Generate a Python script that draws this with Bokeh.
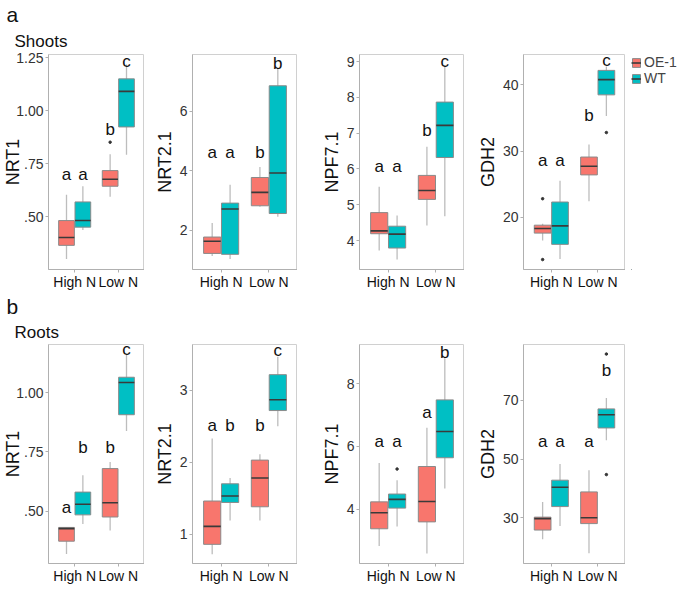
from bokeh.plotting import figure
from bokeh.models import (Range1d, FixedTicker, ColumnDataSource, Title,
                          Legend, LegendItem)
from bokeh.layouts import row, column
from bokeh.core.properties import value
from bokeh.embed import file_html
from bokeh.resources import INLINE

# ---------------- data ----------------
GROUPS = ["High N", "Low N"]
GENOTYPES = ["OE-1", "WT"]
COLORS = ["#F8766D", "#00BFC4"]

# box order: (High N, OE-1), (High N, WT), (Low N, OE-1), (Low N, WT)
# each tuple: lower whisker, Q1, median, Q3, upper whisker
SHOOTS_NRT1 = [(0.30, 0.364, 0.401, 0.481, 0.603), (0.437, 0.450, 0.481, 0.569, 0.643),
               (0.593, 0.643, 0.676, 0.717, 0.794), (0.792, 0.923, 1.091, 1.150, 1.218)]
SHOOTS_NRT21 = [(1.13, 1.22, 1.63, 1.77, 2.24), (1.03, 1.19, 2.71, 2.91, 3.53),
                (2.79, 2.82, 3.27, 3.77, 4.12), (2.45, 2.56, 3.92, 6.85, 7.45)]
SHOOTS_NPF71 = [(3.72, 4.19, 4.27, 4.78, 5.50), (3.47, 3.79, 4.18, 4.40, 4.70),
                (4.42, 5.15, 5.40, 5.82, 6.62), (4.68, 6.32, 7.22, 7.87, 8.90)]
SHOOTS_GDH2 = [(16.5, 17.6, 18.3, 18.8, 19.0), (13.7, 15.9, 18.7, 22.3, 25.5),
               (22.4, 26.4, 27.7, 29.1, 31.0), (35.3, 38.5, 40.8, 42.2, 42.8)]
ROOTS_NRT1 = [(0.320, 0.374, 0.427, 0.432, 0.433), (0.446, 0.485, 0.530, 0.581, 0.652),
              (0.419, 0.476, 0.536, 0.680, 0.708), (0.838, 0.907, 1.043, 1.065, 1.160)]
ROOTS_NRT21 = [(0.72, 0.857, 1.107, 1.46, 2.33), (1.19, 1.44, 1.53, 1.70, 1.78),
               (1.19, 1.38, 1.78, 2.03, 2.11), (2.50, 2.72, 2.87, 3.22, 3.47)]
ROOTS_NPF71 = [(2.82, 3.37, 3.88, 4.23, 5.47), (3.44, 4.03, 4.31, 4.48, 4.92),
               (2.58, 3.59, 4.24, 5.36, 6.60), (4.66, 5.64, 6.48, 7.49, 8.82)]
ROOTS_GDH2 = [(22.7, 25.8, 29.7, 30.2, 35.4), (27.2, 33.8, 40.4, 42.8, 48.3),
              (17.9, 28.0, 30.0, 38.8, 46.2), (56.4, 60.6, 65.1, 67.1, 70.8)]

# outliers: (group, genotype, value)
SHOOTS_NRT1_OUT = [("Low N", "OE-1", 0.851)]
SHOOTS_GDH2_OUT = [("High N", "OE-1", 22.8), ("High N", "OE-1", 13.6), ("Low N", "WT", 32.8)]
ROOTS_NPF71_OUT = [("High N", "WT", 5.28)]
ROOTS_GDH2_OUT = [("Low N", "WT", 85.8), ("Low N", "WT", 44.7)]

# significance letters (same box order) and their heights
SHOOTS_NRT1_LET = ["a", "a", "b", "c"];   SHOOTS_NRT1_LY = [0.699, 0.699, 0.913, 1.234]
SHOOTS_NRT21_LET = ["a", "a", "b", "b"];  SHOOTS_NRT21_LY = [4.61, 4.61, 4.61, 7.61]
SHOOTS_NPF71_LET = ["a", "a", "b", "c"];  SHOOTS_NPF71_LY = [6.08, 6.08, 7.07, 9.01]
SHOOTS_GDH2_LET = ["a", "a", "b", "c"];   SHOOTS_GDH2_LY = [28.6, 28.6, 35.4, 43.7]
ROOTS_NRT1_LET = ["a", "b", "b", "c"];    ROOTS_NRT1_LY = [0.514, 0.77, 0.77, 1.18]
ROOTS_NRT21_LET = ["a", "b", "b", "c"];   ROOTS_NRT21_LY = [2.51, 2.51, 2.51, 3.55]
ROOTS_NPF71_LET = ["a", "a", "a", "b"];   ROOTS_NPF71_LY = [6.15, 6.15, 7.08, 9.01]
ROOTS_GDH2_LET = ["a", "a", "a", "b"];    ROOTS_GDH2_LY = [56.0, 56.0, 56.0, 80.1]

# axis ranges and ticks
SHOOTS_NRT1_Y = (0.25, 1.265);  SHOOTS_NRT1_TICKS = [0.5, 0.75, 1.0, 1.25]
SHOOTS_NRT1_TICKLABELS = [".50", ".75", "1.00", "1.25"]
SHOOTS_NRT21_Y = (0.68, 7.9);   SHOOTS_NRT21_TICKS = [2, 4, 6]
SHOOTS_NPF71_Y = (3.19, 9.2);   SHOOTS_NPF71_TICKS = [4, 5, 6, 7, 8, 9]
SHOOTS_GDH2_Y = (12.1, 44.6);   SHOOTS_GDH2_TICKS = [20, 30, 40]
ROOTS_NRT1_Y = (0.28, 1.203);   ROOTS_NRT1_TICKS = [0.5, 0.75, 1.0]
ROOTS_NRT1_TICKLABELS = [".50", ".75", "1.00"]
ROOTS_NRT21_Y = (0.59, 3.64);   ROOTS_NRT21_TICKS = [1, 2, 3]
ROOTS_NPF71_Y = (2.26, 9.26);   ROOTS_NPF71_TICKS = [4, 6, 8]
ROOTS_GDH2_Y = (14.4, 89.05);   ROOTS_GDH2_TICKS = [30, 50, 70]

FONT = "Liberation Sans"
DODGE = 0.1875
BOX_W = 0.36
BOTTOM = 20
BOX_LINE = "#8a8a8a"
MED_LINE = "#3a3a3a"


def box_x(gi, ki):
    return (gi + 1) + (ki - 0.5) * 2 * DODGE


def make_panel(stats, outliers, yr, ticks, tick_labels, letters, letter_y, ylabel,
               width, height, left, top, label_standoff=2, titles=None):
    p = figure(width=width, height=height,
               x_range=Range1d(0.4, 2.6), y_range=Range1d(*yr),
               output_backend="svg", toolbar_location=None,
               min_border_left=left, min_border_right=0,
               min_border_top=top, min_border_bottom=BOTTOM)
    p.xgrid.visible = False
    p.ygrid.visible = False
    p.outline_line_color = "#d0d0d0"
    p.background_fill_color = "white"

    # axes
    p.xaxis.ticker = FixedTicker(ticks=[1, 2])
    p.xaxis.major_label_overrides = {1: GROUPS[0], 2: GROUPS[1]}
    p.yaxis.ticker = FixedTicker(ticks=ticks)
    if tick_labels is not None:
        p.yaxis.major_label_overrides = {t: l for t, l in zip(ticks, tick_labels)}
    for ax in (p.xaxis[0], p.yaxis[0]):
        ax.axis_line_color = "#b0b0b0"
        ax.major_tick_line_color = "#b0b0b0"
        ax.major_tick_in = 0
        ax.major_tick_out = 3
        ax.minor_tick_line_color = None
        ax.major_label_text_font = FONT
        ax.major_label_text_font_size = "14px"
        ax.major_label_standoff = 2
    p.xaxis.major_label_standoff = 1
    p.xaxis.axis_label = None
    p.xaxis.axis_label_standoff = 0
    p.xaxis.major_label_text_color = "#111111"
    p.yaxis.major_label_text_color = "#333333"
    p.yaxis.axis_label = ylabel
    p.yaxis.axis_label_text_font = FONT
    p.yaxis.axis_label_text_font_size = "18px"
    p.yaxis.axis_label_text_font_style = "normal"
    p.yaxis.axis_label_text_color = "#111111"
    p.yaxis.axis_label_standoff = label_standoff

    sources = {}
    for ki, g in enumerate(GENOTYPES):
        xs, lo, q1, md, q3, hi = [], [], [], [], [], []
        for gi, grp in enumerate(GROUPS):
            s = stats[gi * 2 + ki]
            xs.append(box_x(gi, ki))
            lo.append(s[0]); q1.append(s[1]); md.append(s[2]); q3.append(s[3]); hi.append(s[4])
        src = ColumnDataSource(dict(x=xs, lo=lo, q1=q1, md=md, q3=q3, hi=hi,
                                    xl=[x - BOX_W / 2 for x in xs],
                                    xr=[x + BOX_W / 2 for x in xs]))
        p.segment(x0="x", y0="lo", x1="x", y1="hi", source=src,
                  line_color="#bdbdbd", line_width=1.3)
        p.vbar(x="x", width=BOX_W, bottom="q1", top="q3", source=src,
               fill_color=COLORS[ki], line_color=BOX_LINE, line_width=1)
        p.segment(x0="xl", y0="md", x1="xr", y1="md", source=src,
                  line_color=MED_LINE, line_width=1.6)
        sources[g] = src

    if outliers:
        ox = [box_x(GROUPS.index(o[0]), GENOTYPES.index(o[1])) for o in outliers]
        oy = [o[2] for o in outliers]
        p.scatter(ox, oy, size=2.5, color="#333333")

    lx = [box_x(i // 2, i % 2) for i in range(4)]
    p.text(x=lx, y=letter_y, text=letters, text_align="center", text_baseline="middle",
           text_font=value(FONT), text_font_size="17px", text_color="#111111")

    if titles:
        for text, size, offset, standoff in titles:
            p.add_layout(Title(text=text, text_font=FONT, text_font_size=size,
                               text_font_style="normal", text_color="#111111",
                               align="left", offset=offset, standoff=standoff), "above")
    return p, sources


def make_legend(sources, width, height, left, top):
    # legend-only figure: the keys share the panel's data, which lies far outside its ranges
    f = figure(width=width, height=height, x_range=Range1d(1000, 1001),
               y_range=Range1d(1000, 1001),
               output_backend="svg", toolbar_location=None,
               x_axis_location=None, y_axis_location=None,
               min_border_left=left, min_border_right=0,
               min_border_top=top, min_border_bottom=0)
    f.grid.visible = False
    f.outline_line_color = None
    items = []
    for ki, g in enumerate(GENOTYPES):
        src = sources[g]
        b = f.vbar(x="x", width=BOX_W, bottom="q1", top="q3", source=src,
                   fill_color=COLORS[ki], line_color=BOX_LINE, line_width=1)
        m = f.segment(x0="xl", y0="md", x1="xr", y1="md", source=src,
                      line_color=MED_LINE, line_width=1.6)
        items.append(LegendItem(label=g, renderers=[b, m]))
    lg = Legend(items=items, location="top_left", label_text_font=FONT,
                label_text_font_size="14px", glyph_width=10, glyph_height=11,
                label_standoff=3, spacing=0, padding=0, margin=0,
                border_line_color=None, label_height=12, background_fill_alpha=0)
    f.add_layout(lg, "center")
    return f


# figure widths (left border + frame)
W1, W2, W3, W4, WL = 144, 153, 167, 161, 52
L1, L2, L3, L4 = 42, 48, 62, 59
H1, H2 = 292, 294
TOP1, TOP2 = 44, 48

p1, _ = make_panel(SHOOTS_NRT1, SHOOTS_NRT1_OUT, SHOOTS_NRT1_Y, SHOOTS_NRT1_TICKS,
                   SHOOTS_NRT1_TICKLABELS, SHOOTS_NRT1_LET, SHOOTS_NRT1_LY, "NRT1",
                   W1, H1, L1, TOP1, label_standoff=-10,
                   titles=[("Shoots", "17px", -34, 8), ("a", "21px", -42, 0)])
p2, _ = make_panel(SHOOTS_NRT21, None, SHOOTS_NRT21_Y, SHOOTS_NRT21_TICKS, None,
                   SHOOTS_NRT21_LET, SHOOTS_NRT21_LY, "NRT2.1", W2, H1, L2, TOP1)
p3, _ = make_panel(SHOOTS_NPF71, None, SHOOTS_NPF71_Y, SHOOTS_NPF71_TICKS, None,
                   SHOOTS_NPF71_LET, SHOOTS_NPF71_LY, "NPF7.1", W3, H1, L3, TOP1)
p4, src4 = make_panel(SHOOTS_GDH2, SHOOTS_GDH2_OUT, SHOOTS_GDH2_Y, SHOOTS_GDH2_TICKS, None,
                      SHOOTS_GDH2_LET, SHOOTS_GDH2_LY, "GDH2", W4, H1, L4, TOP1)
pl = make_legend(src4, WL, H1, 6, 43)

p5, _ = make_panel(ROOTS_NRT1, None, ROOTS_NRT1_Y, ROOTS_NRT1_TICKS, ROOTS_NRT1_TICKLABELS,
                   ROOTS_NRT1_LET, ROOTS_NRT1_LY, "NRT1",
                   W1, H2, L1, TOP2, label_standoff=-10,
                   titles=[("Roots", "17px", -34, 6), ("b", "21px", -42, 0)])
p6, _ = make_panel(ROOTS_NRT21, None, ROOTS_NRT21_Y, ROOTS_NRT21_TICKS, None,
                   ROOTS_NRT21_LET, ROOTS_NRT21_LY, "NRT2.1", W2, H2, L2, TOP2)
p7, _ = make_panel(ROOTS_NPF71, ROOTS_NPF71_OUT, ROOTS_NPF71_Y, ROOTS_NPF71_TICKS, None,
                   ROOTS_NPF71_LET, ROOTS_NPF71_LY, "NPF7.1", W3, H2, L3, TOP2)
p8, _ = make_panel(ROOTS_GDH2, ROOTS_GDH2_OUT, ROOTS_GDH2_Y, ROOTS_GDH2_TICKS, None,
                   ROOTS_GDH2_LET, ROOTS_GDH2_LY, "GDH2", W4, H2, L4, TOP2)

layout = column(row(p1, p2, p3, p4, pl), row(p5, p6, p7, p8))

open("out.html", "w").write(file_html(layout, INLINE))
